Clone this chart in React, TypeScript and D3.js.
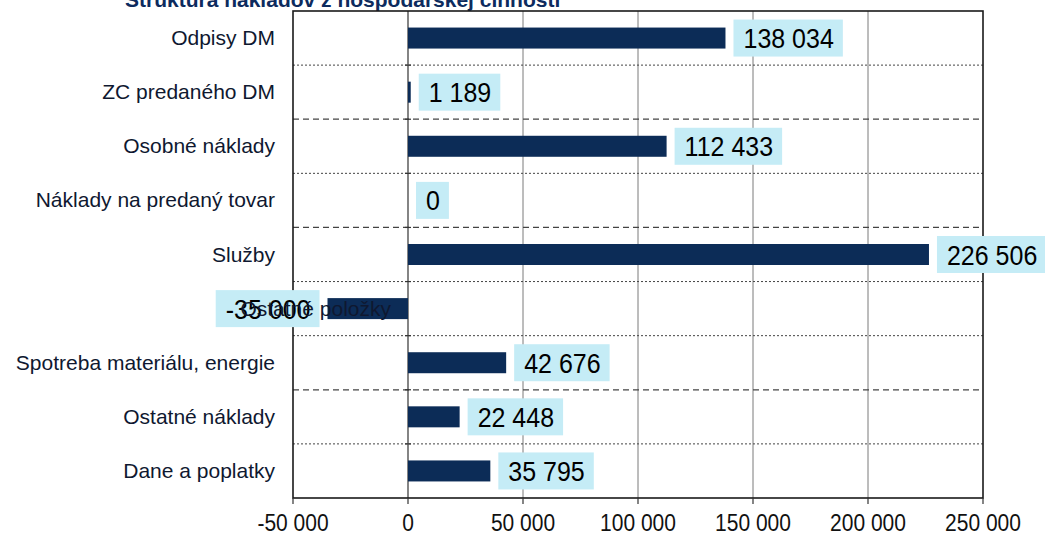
import React from "react";
import * as d3 from "d3";

const categories = [
  "Odpisy DM",
  "ZC predaného DM",
  "Osobné náklady",
  "Náklady na predaný tovar",
  "Služby",
  "Ostatné položky",
  "Spotreba materiálu, energie",
  "Ostatné náklady",
  "Dane a poplatky",
];
const values = [138034, 1189, 112433, 0, 226506, -35000, 42676, 22448, 35795];
const xTicks = [-50000, 0, 50000, 100000, 150000, 200000, 250000];
const title = "Štruktúra nákladov z hospodárskej činnosti";

const W = 1045;
const H = 535;
const plot = { left: 293, right: 983, top: 11, bottom: 498 };
const gridDash = ["2,2", "6,4", "2,2", "6,4", "2,2", "2,2", "6,4", "2,2"];

const fmt = (v: number) => d3.format(",")(v).replace(/,/g, " ").replace("−", "-");

let ctx: CanvasRenderingContext2D | null = null;
function measure(text: string, font: string) {
  if (!ctx) ctx = document.createElement("canvas").getContext("2d");
  if (!ctx) return text.length * 12;
  ctx.font = font;
  return ctx.measureText(text).width;
}

export default function App() {
  const x = d3.scaleLinear().domain([-50000, 250000]).range([plot.left, plot.right]);
  const y = d3.scaleBand<string>().domain(categories).range([plot.top, plot.bottom]).paddingInner(0);
  const bw = y.bandwidth();
  const barH = 21;
  const valFont = 25;
  const boxH = 37;

  const boundaries = categories.slice(1).map((c) => y(c) as number);

  return (
    <svg
      width={W}
      height={H}
      style={{ position: "absolute", left: 0, top: 0, background: "#fff", fontFamily: "Arial, 'Liberation Sans', sans-serif" }}
    >
      <text x={125} y={7} fontSize={21} fontWeight="bold" fill="#0d2b5e">
        {title}
      </text>
      <rect x={plot.left} y={plot.top} width={plot.right - plot.left} height={plot.bottom - plot.top} fill="#fff" />
      {xTicks.slice(2, -1).map((t) => (
        <line key={"vg" + t} x1={x(t)} x2={x(t)} y1={plot.top} y2={plot.bottom} stroke="#6b6b6b" strokeWidth={0.9} />
      ))}
      {boundaries.map((b, i) => (
        <line
          key={"hg" + i}
          x1={plot.left}
          x2={plot.right}
          y1={b}
          y2={b}
          stroke="#444"
          strokeWidth={gridDash[i] === "6,4" ? 1.3 : 1}
          strokeDasharray={gridDash[i]}
        />
      ))}
      <line x1={x(0)} x2={x(0)} y1={plot.top} y2={plot.bottom} stroke="#333" strokeWidth={1.2} />
      {boundaries.map((b, i) => (
        <line key={"yt" + i} x1={x(0) - 3} x2={x(0) + 3} y1={b} y2={b} stroke="#333" strokeWidth={1.2} />
      ))}
      {categories.map((c, i) => {
        const v = values[i];
        const x0 = x(Math.min(0, v));
        const x1 = x(Math.max(0, v));
        const cy = (y(c) as number) + bw / 2;
        return v === 0 ? null : (
          <rect key={"b" + c} x={x0} y={cy - barH / 2} width={Math.max(1.5, x1 - x0)} height={barH} fill="#0c2c57" />
        );
      })}
      <rect
        x={plot.left}
        y={plot.top}
        width={plot.right - plot.left}
        height={plot.bottom - plot.top}
        fill="none"
        stroke="#1a1a1a"
        strokeWidth={1.6}
      />
      {xTicks.map((t) => (
        <g key={"xt" + t}>
          <line x1={x(t)} x2={x(t)} y1={plot.bottom} y2={plot.bottom + 6} stroke="#333" strokeWidth={1.2} />
          <text
            transform={`translate(${x(t)},531) scale(1,1.15)`}
            textAnchor="middle"
            fontSize={21}
            fill="#111"
          >
            {fmt(t)}
          </text>
        </g>
      ))}
      {categories.map((c, i) => {
        const v = values[i];
        const cy = (y(c) as number) + bw / 2;
        const label = fmt(v);
        const tw = measure(label, `${valFont}px Arial`);
        const boxW = tw + 19;
        const bx = v < 0 ? x(v) - 8 - boxW : x(v) + 8;
        const catX = v < 0 ? 391 : 275;
        return (
          <g key={"l" + c}>
            <rect x={bx} y={cy - boxH / 2} width={boxW} height={boxH} fill="#c5ecf6" />
            <text transform={`translate(${bx + 10},${cy + 10}) scale(1,1.12)`} fontSize={valFont} fill="#000">
              {label}
            </text>
            <text x={catX} y={cy + 7} textAnchor="end" fontSize={21} fill="#0f1830">
              {c}
            </text>
          </g>
        );
      })}
    </svg>
  );
}
